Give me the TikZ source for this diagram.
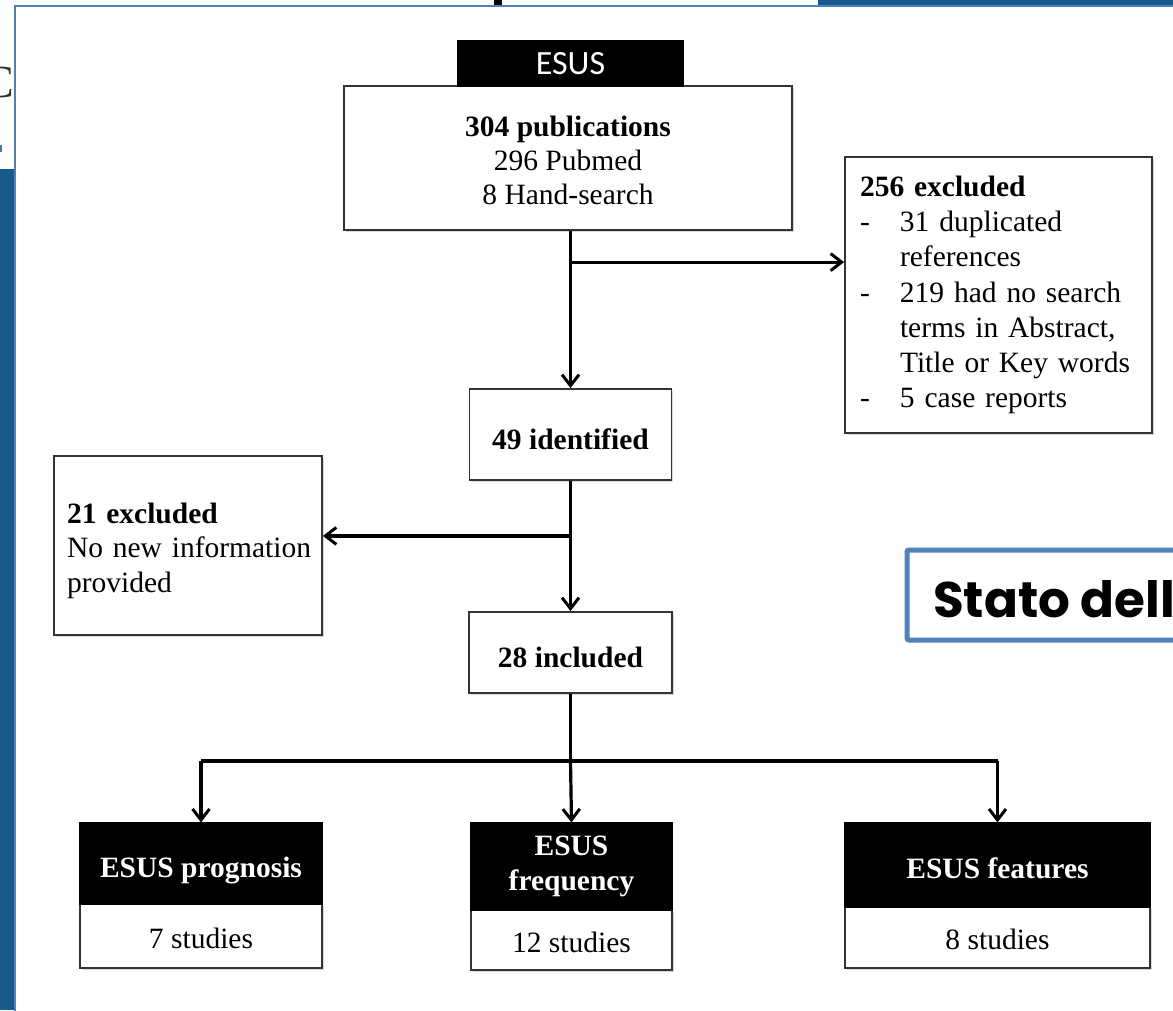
\documentclass[tikz,border=0pt]{standalone}
\usepackage{fontspec}
\setmainfont{Liberation Serif}
\newfontfamily\calib{Carlito}
\newfontfamily\gothic{Poppins}
\usetikzlibrary{arrows.meta,shadows,calc}
\definecolor{slideblue}{HTML}{17598A}
\definecolor{frameblue}{HTML}{4F81BD}
\definecolor{boxline}{HTML}{333333}
\begin{document}
\begin{tikzpicture}[x=1pt,y=-1pt,
  box/.style={draw=boxline, line width=1.8pt, fill=white, inner sep=0pt,
    drop shadow={shadow xshift=1.5pt, shadow yshift=-2pt, opacity=0.3, fill=gray}},
  hdr/.style={draw=black, line width=1.2pt, fill=black, text=white, inner sep=0pt, align=center,
    font=\fontsize{29.5}{35}\selectfont\bfseries},
  txt/.style={font=\fontsize{29.5}{34}\selectfont},
  conn/.style={line width=3.2pt, black},
  arr/.style={conn, -{Straight Barb[length=11pt,width=17pt,line width=3pt]}}
]
\useasboundingbox (0,0) rectangle (1173,1010);
\clip (0,0) rectangle (1173,1010);
% slide background
\fill[white] (0,0) rectangle (1173,1010);
\fill[slideblue] (0,169) rectangle (15,1010);
\fill[slideblue] (818,0) rectangle (1173,5);
\fill[black] (494,0) rectangle (502,5);
\begin{scope}
  \clip (0,0) rectangle (14,169);
  \node[anchor=east, inner sep=0pt, font=\fontsize{46}{46}\selectfont, text=boxline] (cfrag) at (14,82) {C};
\end{scope}
\fill[slideblue!80] (0,145) rectangle (2,152);
% panel frame
\draw[frameblue, line width=2pt] (15,1012) -- (15,6) -- (1175,6);

% main flowchart
\node[box, minimum width=448pt, minimum height=144pt, align=center, txt] (main) at (568,158)
  {\rule{0pt}{25pt}\textbf{304 publications}\\296 Pubmed\\8 Hand-search};
\node[hdr, minimum width=225pt, minimum height=45pt, font=\calib\fontsize{34}{34}\selectfont] (tab) at (570.5,63.5) {ESUS};

\node[box, minimum width=307pt, minimum height=276pt, inner xsep=15pt, text width=277pt, align=left,
  font=\fontsize{29.5}{35.2}\selectfont] (excl256) at (998.5,295)
  {\textbf{256 excluded}\\
   \makebox[40pt][l]{-}31 duplicated\\
   \hspace*{40pt}references\\
   \makebox[40pt][l]{-}219 had no search\\
   \hspace*{40pt}terms in Abstract,\\
   \hspace*{40pt}Title or Key words\\
   \makebox[40pt][l]{-}5 case reports};

\node[box, minimum width=202pt, minimum height=91pt, text height=29pt, text depth=0pt,
  font=\fontsize{29.5}{34}\selectfont\bfseries] (n49) at (570.5,434.5) {49 identified};

\node[box, minimum width=268pt, minimum height=179pt, inner xsep=13pt, text width=242pt, align=left,
  font=\fontsize{29.5}{34.5}\selectfont] (excl21) at (188,545.5)
  {\rule{0pt}{31pt}\textbf{21 excluded}\\\makebox[242pt][l]{No new information}\\provided};

\node[box, minimum width=203pt, minimum height=81pt, text height=29pt, text depth=0pt,
  font=\fontsize{29.5}{34}\selectfont\bfseries] (n28) at (570.5,652.5) {28 included};

% bottom boxes
\node[box, minimum width=242pt, minimum height=64pt, txt, text height=24pt, text depth=0pt] (progbd) at (201,936) {7 studies};
\node[hdr, minimum width=242pt, minimum height=81pt, text height=27pt, text depth=0pt] (proghd) at (201,863.5) {ESUS prognosis};

\node[box, minimum width=201pt, minimum height=60pt, txt, text height=24pt, text depth=0pt] (freqbd) at (571.5,940) {12 studies};
\node[hdr, minimum width=201pt, minimum height=87pt] (freqhd) at (571.5,866.5) {ESUS\\frequency};

\node[box, minimum width=305pt, minimum height=61pt, txt, text height=24pt, text depth=0pt] (featbd) at (997.5,937.5) {8 studies};
\node[hdr, minimum width=305pt, minimum height=84pt, text height=26pt, text depth=0pt] (feathd) at (997.5,865) {ESUS features};

% connectors
\coordinate (b1) at ($(n49.north)+(0,-126)$);
\coordinate (b2) at ($(n49.south)+(0,55)$);
\coordinate (jc) at ($(n28.south)+(0,67)$);
\draw[arr] (main.south -| n49.north) -- (n49.north);
\draw[arr] (b1) -- (b1 -| excl256.west);
\draw[arr] (n49.south) -- (n28.north);
\draw[arr] (b2) -- (b2 -| excl21.east);
\draw[conn] (n28.south) -- (jc);
\draw[conn] (proghd.north |- jc) -- (feathd.north |- jc);
\draw[arr] (proghd.north |- jc) -- (proghd.north);
\draw[arr] (jc) -- (freqhd.north);
\draw[arr] (feathd.north |- jc) -- (feathd.north);

% overlay label
\draw[frameblue, line width=5pt, fill=white, rounded corners=2pt] (907,550) rectangle (1200,640);
\node[anchor=base west, inner sep=0pt, font=\gothic\fontsize{50}{50}\selectfont\bfseries] (stato) at (933,617) {Stato dell};
\end{tikzpicture}
\end{document}
